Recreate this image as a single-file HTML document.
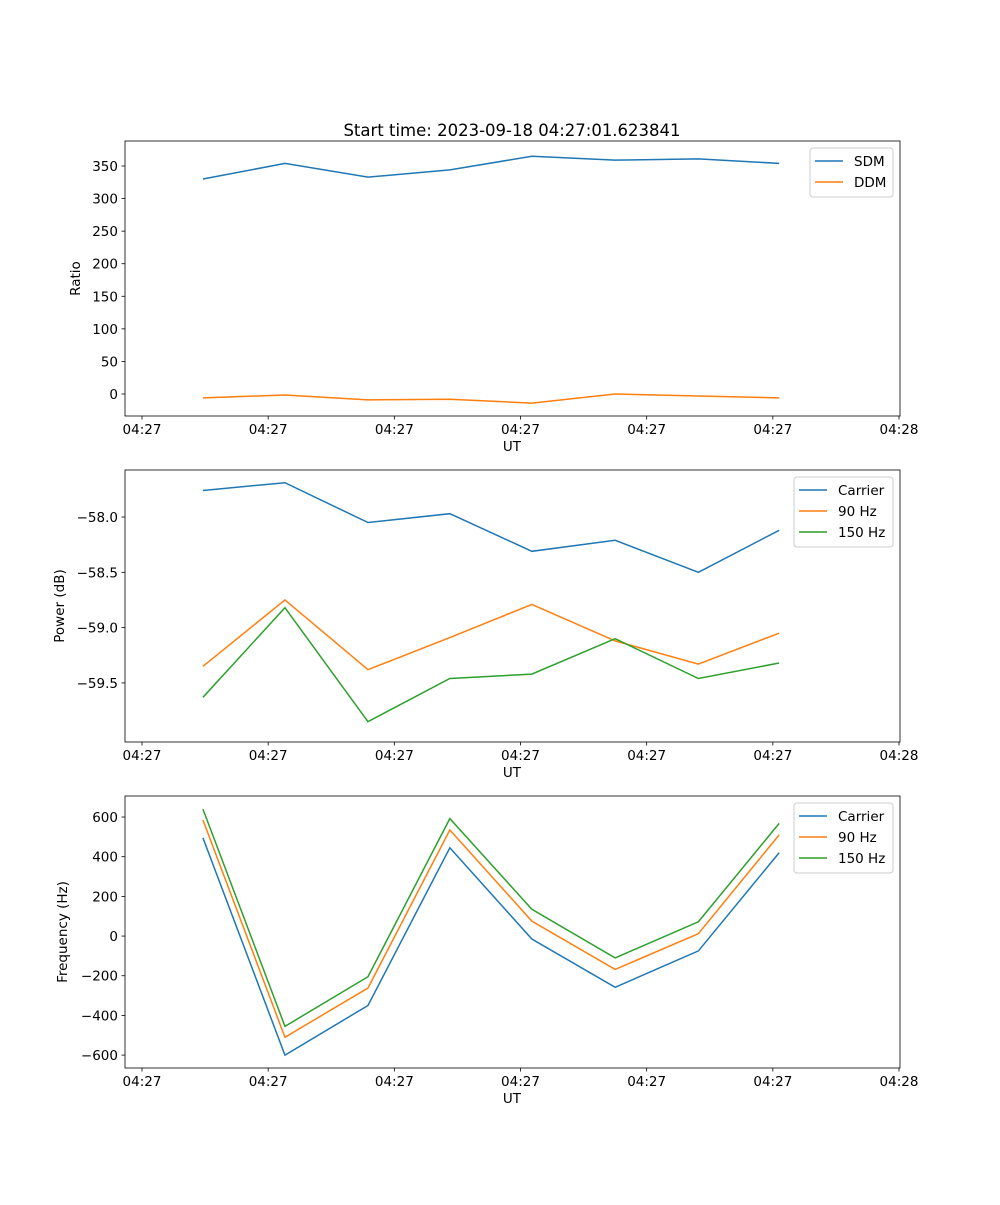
<!DOCTYPE html>
<html><head><meta charset="utf-8"><style>
body{margin:0;background:#fff;}
svg text{font-family:"DejaVu Sans","Liberation Sans",sans-serif;fill:#000;}
</style></head><body>
<svg id="fig" width="1000" height="1200" xmlns="http://www.w3.org/2000/svg">
<rect width="1000" height="1200" fill="#fff"/>
<text x="512" y="136" font-size="16.5" text-anchor="middle">Start time: 2023-09-18 04:27:01.623841</text>
</svg>
<script>
const xTickVals=[0,1,2,3,4,5,6];
const xTickLabels=["04:27","04:27","04:27","04:27","04:27","04:27","04:28"];
const times=[0.483,1.133,1.791,2.44,3.09,3.75,4.41,5.05];
const sdm=[330,354,333,344,365,359,361,354];
const ddm=[-6,-1.5,-9,-8,-14,0,-3,-6];
const pCarrier=[-57.76,-57.69,-58.05,-57.97,-58.31,-58.21,-58.50,-58.12];
const p90=[-59.35,-58.75,-59.38,-59.09,-58.79,-59.12,-59.33,-59.05];
const p150=[-59.63,-58.82,-59.85,-59.46,-59.42,-59.10,-59.46,-59.32];
const fCarrier=[495,-600,-350,445,-15,-258,-75,420];
const f90=[585,-510,-262,535,75,-168,12,510];
const f150=[640,-455,-205,592,135,-110,72,568];
const ratioTicks=[0,50,100,150,200,250,300,350];
const powerTicks=[-58.0,-58.5,-59.0,-59.5];
const freqTicks=[-600,-400,-200,0,200,400,600];
const C=["#1f77b4","#ff7f0e","#2ca02c"];
const svg=document.getElementById('fig');
const NS="http://www.w3.org/2000/svg";
function mk(tag,attrs,parent){const e=document.createElementNS(NS,tag);for(const k in attrs)e.setAttribute(k,attrs[k]);(parent||svg).appendChild(e);return e;}
const L=125,R=900;
function xs(t){return 142+(t-0)*(899-142)/6;}
function panel(name,top,bot,ymin,ymax,yticks,yfmt,ylabel,series,legend,leg){
  const g=mk('g',{});
  
  
  const ys=v=>bot-(v-ymin)/(ymax-ymin)*(bot-top);
  series.forEach((s,i)=>{
    const p=mk('polyline',{points:times.map((t,j)=>xs(t)+','+ys(s[j])).join(' '),fill:'none',stroke:C[i],'stroke-width':1.5},g);
    
    
  });
  mk('rect',{x:L,y:top,width:R-L,height:bot-top,fill:'none',stroke:'#000','stroke-width':0.8},g);
  xTickVals.forEach((v,i)=>{const x=xs(v);mk('line',{x1:x,x2:x,y1:bot,y2:bot+3.5,stroke:'#000','stroke-width':0.8},g);
    const t=mk('text',{x:x,y:bot+18,'font-size':13.5,'text-anchor':'middle'},g);t.textContent=xTickLabels[i];
    });
  yticks.forEach(v=>{const y=ys(v);mk('line',{x1:L-3.5,x2:L,y1:y,y2:y,stroke:'#000','stroke-width':0.8},g);
    const t=mk('text',{x:L-7,y:y+5,'font-size':13.5,'text-anchor':'end'},g);t.textContent=yfmt(v);
    });
  const xl=mk('text',{x:512,y:bot+35,'font-size':13.5,'text-anchor':'middle'},g);xl.textContent='UT';
  
  const yl=mk('text',{x:leg.yl,y:(top+bot)/2,'font-size':13.5,'text-anchor':'middle',transform:`rotate(-90 ${leg.yl} ${(top+bot)/2})`},g);yl.textContent=ylabel;
  
  const lg=mk('g',{},g);
  
  mk('rect',{x:leg.x,y:top+7,width:893-leg.x,height:legend.length*21+7,rx:3,fill:'#fff','fill-opacity':0.8,stroke:'#ccc'},lg);
  legend.forEach((n,i)=>{const y=top+20+i*21;
    mk('line',{x1:leg.x+5,x2:leg.x+33,y1:y,y2:y,stroke:C[i],'stroke-width':1.5},lg);
    const t=mk('text',{x:leg.x+44,y:y+5,'font-size':13.5},lg);t.textContent=n;
    });
}
const minus=s=>s.replace('-','\u2212');
panel('ratio',141,416,-33.8,388.4,ratioTicks,v=>minus(String(v)),'Ratio',[sdm,ddm],['SDM','DDM'],{x:810,yl:80});
panel('power',470,742,-60.034,-57.575,powerTicks,v=>minus(v.toFixed(1)),'Power (dB)',[pCarrier,p90,p150],['Carrier','90 Hz','150 Hz'],{x:794,yl:64});
panel('frequency',796,1068,-665,706,freqTicks,v=>minus(String(v)),'Frequency (Hz)',[fCarrier,f90,f150],['Carrier','90 Hz','150 Hz'],{x:794,yl:67});
</script>
</body></html>
